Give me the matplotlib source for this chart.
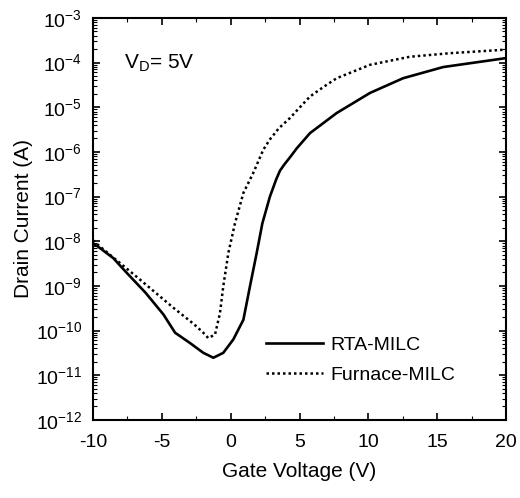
import numpy as np
import matplotlib.pyplot as plt
from matplotlib.ticker import LogLocator, MultipleLocator, NullFormatter

plt.rcParams['font.family'] = ['Liberation Sans', 'DejaVu Sans']
plt.rcParams['axes.unicode_minus'] = False

# RTA-MILC (solid), log10 of drain current
rta_v = [-10, -9.73, -8.53, -7.55, -6.2, -4.89, -4.04, -2.96, -1.99, -1.26, -0.54,
         0.19, 0.92, 1.4, 1.89, 2.3, 2.85, 3.3, 3.58, 3.9, 4.31, 4.8, 5.76, 7.7,
         10.12, 12.53, 15.44, 20]
rta_log = [-8.08, -8.1, -8.38, -8.71, -9.15, -9.64, -10.05, -10.28, -10.5, -10.61,
           -10.5, -10.2, -9.76, -9.01, -8.26, -7.6, -7.0, -6.62, -6.42, -6.28,
           -6.12, -5.92, -5.58, -5.13, -4.68, -4.35, -4.1, -3.9]

# Furnace-MILC (dotted)
fur_v = [-10, -9.73, -8.04, -6.59, -4.17, -2.7, -1.99, -1.63, -1.14, -0.78, -0.54,
         -0.17, 0.31, 0.92, 1.64, 2.37, 2.85, 3.5, 4.31, 5.03, 5.76, 6.72, 7.7,
         10.12, 13.0, 15.93, 20]
fur_log = [-7.98, -8.06, -8.49, -8.86, -9.49, -9.85, -10.05, -10.17, -10.09, -9.61,
           -9.01, -8.26, -7.6, -6.92, -6.47, -5.95, -5.72, -5.47, -5.24, -5.0,
           -4.76, -4.55, -4.35, -4.05, -3.87, -3.79, -3.71]

fig = plt.figure(figsize=(5.2, 4.98), dpi=100)
ax = fig.add_axes([0.179, 0.157, 0.794, 0.807])

ax.plot(rta_v, 10 ** np.array(rta_log), color='black', lw=1.9, ls='-', label='RTA-MILC')
ax.plot(fur_v, 10 ** np.array(fur_log), color='black', lw=1.8, ls=(0, (1, 1.2)),
        label='Furnace-MILC')

ax.set_yscale('log')
ax.set_xlim(-10, 20)
ax.set_ylim(1e-12, 1e-3)
ax.xaxis.set_major_locator(MultipleLocator(5))
ax.xaxis.set_minor_locator(MultipleLocator(2.5))
ax.yaxis.set_major_locator(LogLocator(base=10, numticks=20))
ax.yaxis.set_minor_locator(LogLocator(base=10, subs=np.arange(2, 10), numticks=20))
ax.yaxis.set_minor_formatter(NullFormatter())
ax.tick_params(which='both', direction='in', top=True, right=True, labelsize=14)
ax.tick_params(axis='x', which='major', pad=10)
ax.tick_params(axis='y', which='major', pad=8)
ax.tick_params(which='major', length=5, width=1.2)
ax.tick_params(which='minor', length=3, width=0.8)
for s in ax.spines.values():
    s.set_linewidth(1.5)

ax.set_xlabel('Gate Voltage (V)', fontsize=15, labelpad=8)
ax.set_ylabel('Drain Current (A)', fontsize=15, labelpad=2)

ax.text(0.075, 0.875, r'V$_{\mathregular{D}}$= 5V', transform=ax.transAxes, fontsize=15)

ax.legend(loc='upper left', bbox_to_anchor=(0.42, 0.208), frameon=False, fontsize=14,
          handlelength=2.9, handletextpad=0.4, labelspacing=0.65,
          borderaxespad=0, borderpad=0)

fig.savefig('out.png', dpi=100)
